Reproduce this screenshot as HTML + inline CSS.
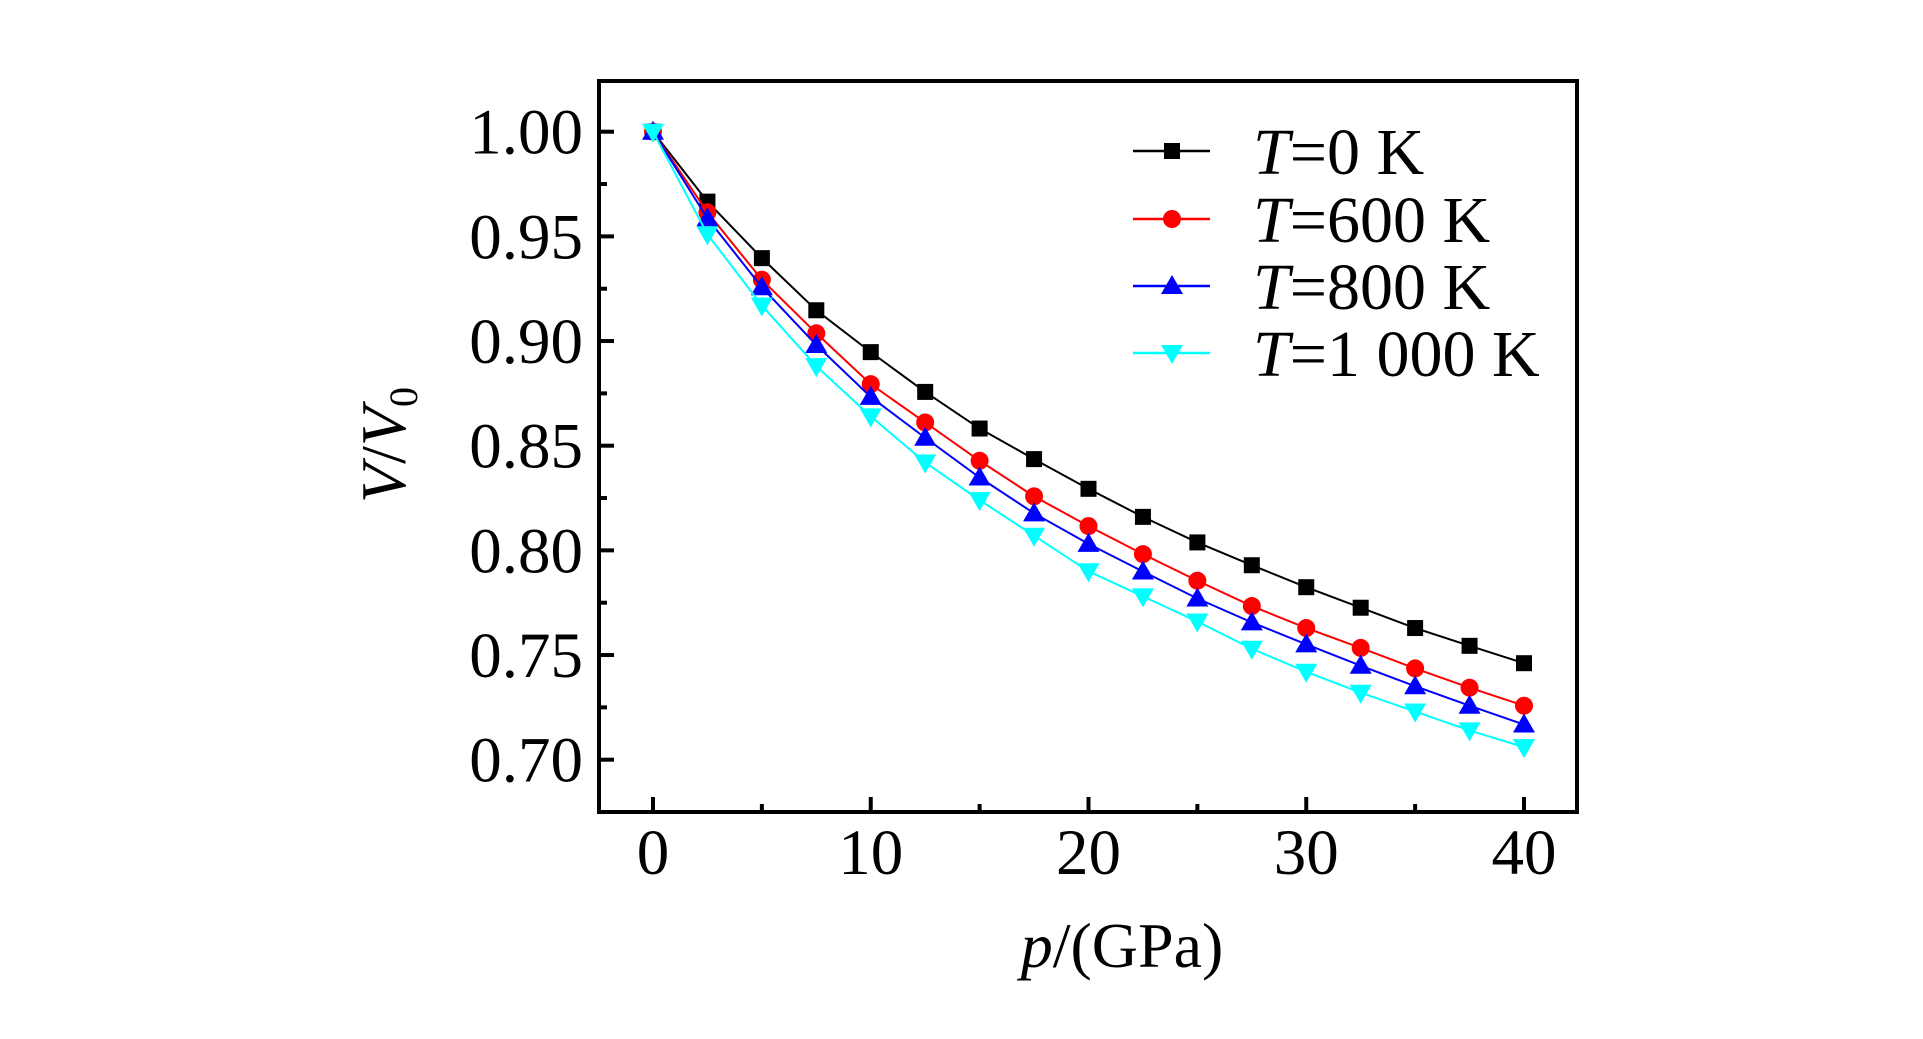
<!DOCTYPE html>
<html><head><meta charset="utf-8"><style>
html,body{margin:0;padding:0;background:#fff;}
svg{display:block;font-family:"Liberation Serif",serif;}
</style></head><body>
<svg id="chart" width="1923" height="1039" viewBox="0 0 1923 1039" xmlns="http://www.w3.org/2000/svg">
<rect x="599" y="81" width="978" height="731" fill="none" stroke="#000" stroke-width="4"/>
<g id="ticks"></g>
<g id="series"></g>
<text x="1122" y="967" font-size="64" text-anchor="middle"><tspan font-style="italic">p</tspan>/(GPa)</text>
<text transform="translate(405,445) rotate(-90)" font-size="64" text-anchor="middle"><tspan font-style="italic">V</tspan>/<tspan font-style="italic">V</tspan><tspan font-size="40" dy="12">0</tspan></text>
<g id="legend"></g>
</svg>
<script>
const pressures = [0,2.5,5,7.5,10,12.5,15,17.5,20,22.5,25,27.5,30,32.5,35,37.5,40];
const seriesNames = ["T=0 K","T=600 K","T=800 K","T=1 000 K"];
const legendValues = ["0 K","600 K","800 K","1 000 K"];
const v0K = [1.0,0.9666,0.9396,0.9147,0.8947,0.8757,0.8582,0.8436,0.8294,0.8160,0.8038,0.7929,0.7824,0.7726,0.7629,0.7544,0.7461];
const v600K = [1.0,0.9615,0.9293,0.9037,0.8794,0.8611,0.8428,0.8258,0.8116,0.7982,0.7855,0.7734,0.7629,0.7534,0.7436,0.7344,0.7258];
const v800K = [1.0,0.9586,0.9257,0.8981,0.8733,0.8538,0.8348,0.8177,0.8031,0.7899,0.7770,0.7656,0.7551,0.7449,0.7351,0.7258,0.7168];
const v1000K = [1.0,0.951,0.917,0.888,0.864,0.842,0.824,0.807,0.790,0.778,0.766,0.753,0.742,0.732,0.723,0.714,0.706];
const xTicks = [0,10,20,30,40];
const xMinor = [5,15,25,35];
const yTicks = [0.70,0.75,0.80,0.85,0.90,0.95,1.00];
const yMinor = [0.675,0.725,0.775,0.825,0.875,0.925,0.975];

const NS="http://www.w3.org/2000/svg";
const X = p => 653 + (p-0)*(1524-653)/40;
const Y = v => 131.7 + (1.0-v)*(759.7-131.7)/0.30;
function mk(tag, attrs, parent){const e=document.createElementNS(NS,tag);for(const k in attrs)e.setAttribute(k,attrs[k]);parent.appendChild(e);return e;}

const tg=document.getElementById('ticks');
xTicks.forEach(t=>{
  const l=mk('line',{x1:X(t),x2:X(t),y1:812,y2:797,stroke:'#000','stroke-width':4},tg);
  
  
  const tx=mk('text',{x:X(t),y:874,'font-size':65,'text-anchor':'middle'},tg);
  tx.textContent=t;
  
  
});
xMinor.forEach(t=>{
  const l=mk('line',{x1:X(t),x2:X(t),y1:812,y2:804,stroke:'#000','stroke-width':4},tg);
  
  
});
yTicks.forEach(t=>{
  const l=mk('line',{x1:599,x2:614,y1:Y(t),y2:Y(t),stroke:'#000','stroke-width':4},tg);
  
  
  const tx=mk('text',{x:583,y:Y(t)+22,'font-size':65,'text-anchor':'end'},tg);
  tx.textContent=t.toFixed(2);
  
  
});
yMinor.forEach(t=>{
  const l=mk('line',{x1:599,x2:607,y1:Y(t),y2:Y(t),stroke:'#000','stroke-width':4},tg);
  
  
});

const colors=['#000','#f00','#00f','#0ff'];
const shapes=['square','circle','up','down'];
const allData=[v0K,v600K,v800K,v1000K];
function marker(shape,cx,cy,color,parent){
  let e;
  if(shape==='square') e=mk('rect',{x:cx-8,y:cy-8,width:16,height:16,fill:color},parent);
  else if(shape==='circle') e=mk('circle',{cx:cx,cy:cy,r:9,fill:color},parent);
  else if(shape==='up') e=mk('polygon',{points:`${cx},${cy-11} ${cx+11},${cy+8} ${cx-11},${cy+8}`,fill:color},parent);
  else e=mk('polygon',{points:`${cx},${cy+11} ${cx+11},${cy-8} ${cx-11},${cy-8}`,fill:color},parent);
  return e;
}
const sg=document.getElementById('series');
allData.forEach((arr,i)=>{
  const g=mk('g',{},sg);
  
  
  const pts=arr.map((v,j)=>X(pressures[j])+','+Y(v)).join(' ');
  const pl=mk('polyline',{points:pts,fill:'none',stroke:colors[i],'stroke-width':2},g);
  
  
  arr.forEach((v,j)=>{
    const m=marker(shapes[i],X(pressures[j]),Y(v),colors[i],g);
    
    
  });
});

const lg=document.getElementById('legend');
const rowY=[151,219,286,353];
seriesNames.forEach((n,i)=>{
  const g=mk('g',{},lg);
  
  
  mk('line',{x1:1133,x2:1210,y1:rowY[i],y2:rowY[i],stroke:colors[i],'stroke-width':2.5},g);
  marker(shapes[i],1172,rowY[i],colors[i],g);
  const t=mk('text',{x:1253,y:rowY[i]+23,'font-size':66},g);
  const ts=mk('tspan',{'font-style':'italic'},t); ts.textContent='T';
  const ts2=mk('tspan',{},t); ts2.textContent='='+legendValues[i];
});
</script>
</body></html>
